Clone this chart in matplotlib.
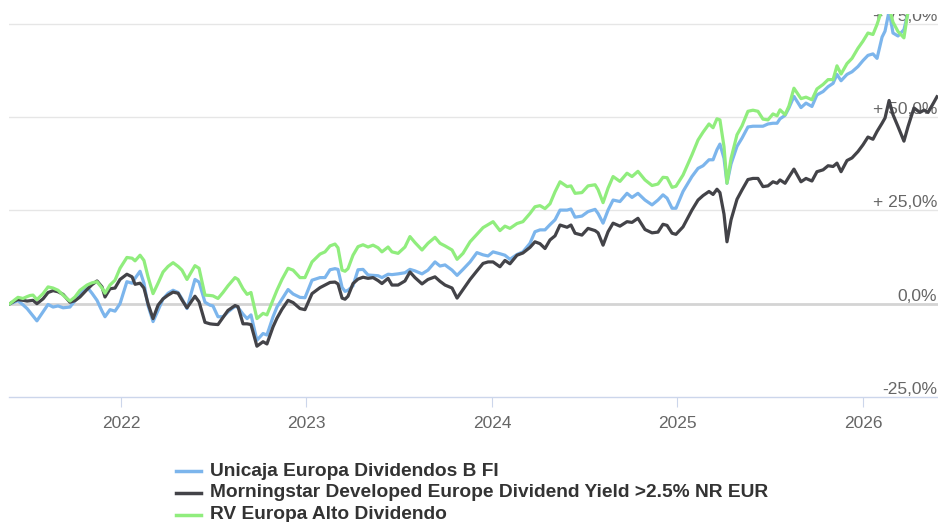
import matplotlib
matplotlib.use("Agg")
import matplotlib.pyplot as plt
from matplotlib.lines import Line2D

plt.rcParams['font.family'] = ['Liberation Sans', 'DejaVu Sans']

# weekly-ish observations, time in decimal years
years = [
    2021.402, 2021.429, 2021.445, 2021.472, 2021.494, 2021.510, 2021.526, 2021.547, 2021.580, 2021.607,
    2021.634, 2021.661, 2021.688, 2021.725, 2021.752, 2021.779, 2021.817, 2021.844, 2021.871, 2021.898,
    2021.914, 2021.941, 2021.968, 2021.995, 2022.032, 2022.060, 2022.076, 2022.103, 2022.124, 2022.146,
    2022.173, 2022.200, 2022.227, 2022.254, 2022.281, 2022.308, 2022.329, 2022.356, 2022.399, 2022.421,
    2022.453, 2022.480, 2022.496, 2022.523, 2022.550, 2022.577, 2022.615, 2022.631, 2022.658, 2022.680,
    2022.701, 2022.733, 2022.766, 2022.787, 2022.820, 2022.841, 2022.868, 2022.901, 2022.928, 2022.965,
    2022.992, 2023.030, 2023.073, 2023.100, 2023.127, 2023.154, 2023.170, 2023.192, 2023.208, 2023.224,
    2023.251, 2023.278, 2023.305, 2023.332, 2023.359, 2023.386, 2023.407, 2023.440, 2023.461, 2023.494,
    2023.531, 2023.558, 2023.585, 2023.623, 2023.655, 2023.693, 2023.720, 2023.747, 2023.785, 2023.812,
    2023.844, 2023.882, 2023.919, 2023.952, 2023.979, 2024.006, 2024.043, 2024.070, 2024.097, 2024.135,
    2024.167, 2024.205, 2024.232, 2024.259, 2024.286, 2024.313, 2024.340, 2024.367, 2024.405, 2024.426,
    2024.448, 2024.485, 2024.518, 2024.556, 2024.572, 2024.599, 2024.626, 2024.653, 2024.690, 2024.728,
    2024.755, 2024.787, 2024.825, 2024.863, 2024.895, 2024.922, 2024.944, 2024.971, 2024.992, 2025.030,
    2025.078, 2025.111, 2025.138, 2025.170, 2025.192, 2025.213, 2025.229, 2025.251, 2025.267, 2025.289,
    2025.321, 2025.348, 2025.380, 2025.407, 2025.434, 2025.461, 2025.488, 2025.515, 2025.537, 2025.553,
    2025.580, 2025.601, 2025.628, 2025.666, 2025.693, 2025.725, 2025.752, 2025.785, 2025.812, 2025.839,
    2025.860, 2025.882, 2025.914, 2025.941, 2025.973, 2026.000, 2026.027, 2026.054, 2026.076, 2026.103,
    2026.119, 2026.141, 2026.162, 2026.189, 2026.221, 2026.243, 2026.275, 2026.307, 2026.329, 2026.351,
    2026.372, 2026.399,
]

# cumulative return, %
fund = [
    0.0, 0.5, 0.8, -0.3, -1.3, -2.3, -3.3, -4.6, -2.2, -0.2,
    -0.9, -0.6, -1.1, -0.9, 0.8, 2.5, 4.5, 2.8, 0.9, -2.0,
    -3.5, -1.6, -2.0, 0.0, 5.9, 5.5, 6.8, 8.7, 5.5, -0.5,
    -4.8, -1.8, 1.3, 2.8, 3.6, 3.0, 1.3, -1.3, 6.5, 5.8,
    0.4, -0.4, -0.6, -3.5, -3.5, -2.2, -0.7, -1.0, -2.8, -4.0,
    -3.0, -9.8, -8.0, -8.4, -3.5, -0.9, 1.2, 3.8, 2.6, 1.7,
    1.6, 6.3, 7.0, 7.0, 9.1, 9.4, 9.2, 4.4, 3.3, 3.6,
    4.8, 9.1, 9.2, 7.7, 7.6, 7.5, 7.0, 7.9, 7.8, 8.0,
    8.3, 9.2, 8.8, 8.0, 9.0, 11.2, 10.1, 10.4, 9.0, 7.6,
    9.2, 11.2, 13.7, 13.1, 12.8, 13.9, 13.4, 13.0, 11.9, 13.2,
    13.9, 16.2, 19.3, 19.8, 19.8, 21.2, 22.5, 25.1, 25.1, 25.4,
    23.2, 23.5, 24.7, 25.3, 24.2, 21.6, 25.1, 27.8, 27.4, 29.6,
    28.5, 29.6, 27.8, 26.5, 27.8, 29.2, 28.3, 25.6, 25.6, 30.1,
    34.1, 36.3, 37.0, 38.6, 38.6, 41.3, 42.8, 39.0, 32.3, 37.5,
    42.2, 44.4, 47.4, 47.6, 47.6, 47.6, 48.2, 48.4, 48.4, 49.6,
    50.5, 52.5, 55.6, 52.6, 53.8, 52.9, 56.0, 56.9, 58.2, 59.1,
    61.5, 59.8, 61.5, 62.2, 63.6, 65.2, 66.6, 67.0, 65.8, 71.5,
    73.1, 78.5, 72.6, 71.8, 73.5, 78.0, 79.5, 80.0, 79.5, 80.0,
    80.5, 81.0,
]

benchmark = [
    0.0, 0.8, 1.1, 0.9, 0.7, 0.8, 0.9, 0.0, 1.3, 3.0,
    3.5, 3.2, 2.5, 0.4, 0.8, 1.8, 3.8, 5.1, 6.1, 4.5,
    1.8, 4.0, 4.2, 6.5, 7.9, 7.2, 5.2, 5.5, 4.2, 0.0,
    -4.0, -0.4, 1.3, 2.3, 3.1, 2.8, 1.0, -1.1, 2.0, 0.5,
    -5.0, -5.4, -5.5, -5.6, -3.7, -1.8, -0.5, -0.8, -5.4, -5.4,
    -5.6, -11.4, -10.2, -10.8, -6.2, -3.9, -1.5, 0.9, 0.3, -1.3,
    -1.6, 2.7, 4.3, 5.0, 5.7, 5.8, 5.3, 1.5, 1.2, 2.0,
    5.4, 6.6, 7.1, 6.8, 7.0, 6.2, 5.4, 6.8, 5.0, 5.0,
    6.1, 8.5, 7.0, 5.3, 6.5, 7.2, 6.0, 5.0, 4.2, 1.5,
    3.8, 6.5, 8.8, 10.8, 11.2, 11.2, 9.9, 11.6, 10.7, 13.0,
    13.6, 15.1, 16.6, 16.1, 14.8, 17.1, 18.2, 21.1, 20.5, 21.1,
    18.9, 18.4, 20.2, 19.6, 19.0, 15.7, 19.3, 21.6, 20.8, 22.0,
    21.8, 22.9, 19.9, 19.0, 19.2, 21.3, 21.0, 18.9, 18.6, 20.6,
    25.1, 27.8, 29.0, 30.1, 29.3, 30.7, 29.8, 24.0, 16.6, 22.5,
    28.0, 30.5, 33.3, 33.6, 33.6, 31.4, 31.6, 32.7, 32.3, 33.2,
    32.3, 34.0, 36.1, 32.7, 33.6, 32.9, 35.4, 35.9, 37.0, 36.8,
    37.7, 35.4, 38.4, 39.1, 40.8, 42.6, 44.7, 44.1, 46.2, 48.4,
    49.8, 54.5, 50.7, 47.5, 43.6, 47.5, 52.5, 51.3, 51.9, 51.3,
    53.1, 55.5,
]

category = [
    0.0, 1.1, 1.7, 1.4, 1.9, 2.2, 2.3, 1.1, 2.7, 4.5,
    4.2, 3.6, 2.3, 0.7, 1.8, 3.6, 5.0, 5.6, 5.9, 4.2,
    2.8, 5.0, 6.3, 9.5, 12.4, 12.2, 11.5, 13.0, 11.6, 7.2,
    2.7, 5.5, 8.5, 10.0, 11.0, 10.0, 9.0, 6.5, 10.2, 9.5,
    2.3, 2.2, 2.1, 1.4, 3.0, 4.8, 7.0, 6.5, 4.0, 2.5,
    3.0, -4.0, -2.6, -3.0, 1.0, 3.6, 6.5, 9.5, 9.0, 7.0,
    7.0, 11.2, 13.3, 13.9, 15.5, 16.0, 15.0, 9.0, 8.7, 9.4,
    13.0, 15.3, 15.8, 15.2, 15.7, 15.0, 13.9, 15.2, 13.9, 13.5,
    15.2, 18.0, 16.4, 14.4, 16.2, 17.8, 16.2, 15.5, 14.4, 11.9,
    13.5, 16.6, 18.6, 20.4, 21.2, 22.0, 19.6, 20.8, 20.2, 21.5,
    22.0, 24.2, 26.0, 26.3, 25.5, 26.8, 30.0, 32.7, 31.4, 31.6,
    29.6, 29.8, 31.6, 31.9, 30.6, 27.1, 31.0, 34.1, 32.8, 35.0,
    34.1, 35.5, 33.2, 31.7, 32.1, 33.9, 33.8, 31.2, 31.5, 34.5,
    39.9, 43.9, 46.0, 48.2, 47.2, 49.6, 49.3, 42.1, 32.3, 39.0,
    45.3, 47.7, 51.6, 51.9, 51.6, 49.5, 49.3, 50.9, 50.4, 52.0,
    50.7, 53.0, 57.8, 55.0, 55.4, 54.7, 57.6, 58.8, 60.1, 60.1,
    63.8, 61.6, 64.4, 65.8, 68.5, 70.4, 72.6, 72.2, 74.9, 79.0,
    80.5, 79.5, 75.5, 73.0, 71.3, 78.5, 80.5, 81.0, 80.0, 81.0,
    81.5, 82.5,
]

names = [
    "Unicaja Europa Dividendos B FI",
    "Morningstar Developed Europe Dividend Yield >2.5% NR EUR",
    "RV Europa Alto Dividendo",
]
colors = ["#7cb5ec", "#434348", "#90ed7d"]

grid_levels = [-25, 0, 25, 50, 75]
grid_labels = ["-25,0%", "0,0%", "+ 25,0%", "+ 50,0%", "+ 75,0%"]
year_ticks = [2022, 2023, 2024, 2025, 2026]

W, H = 938, 522
fig = plt.figure(figsize=(W / 100, H / 100), dpi=100)
ax = fig.add_axes([9 / W, 1 - 396.9 / H, 929 / W, (396.9 - 14) / H])
ax.set_xlim(2021.3965, 2026.4046)
ax.set_ylim(-25, 77.7)

for lvl in grid_levels[2:]:
    ax.axhline(lvl, color="#e6e6e6", lw=1.0, zorder=1)
ax.axhline(0, color="#d4d4d4", lw=2.0, zorder=1)

for lvl, lab in zip(grid_levels, grid_labels):
    ax.text(0.999, lvl, lab, transform=ax.get_yaxis_transform(), ha="right", va="bottom",
            fontsize=12.5, color="#666666", clip_on=True, zorder=2)

for i, (vals, c) in enumerate(zip([fund, benchmark, category], colors)):
    ax.plot(years, vals, color=c, lw=2.3, zorder=3 + i, solid_joinstyle="round")

for side in ["top", "left", "right"]:
    ax.spines[side].set_visible(False)
ax.spines["bottom"].set_color("#ccd6eb")
ax.spines["bottom"].set_linewidth(1.0)
ax.set_yticks([])
ax.set_xticks(year_ticks)
ax.set_xticklabels([str(y) for y in year_ticks])
ax.tick_params(axis="x", direction="out", length=7.5, width=0.8, color="#ccd6eb",
               labelsize=12.5, labelcolor="#666666", pad=6)

# legend below the plot
for i, (name, c) in enumerate(zip(names, colors)):
    yc = 1 - (471 + 21.8 * i) / H
    fig.add_artist(Line2D([176 / W, 201 / W], [yc, yc], color=c, lw=2.5))
    fig.text(210 / W, yc, name, fontsize=13.8, fontweight="bold", color="#333333",
             va="center", ha="left")

fig.savefig("out.png", dpi=100)
